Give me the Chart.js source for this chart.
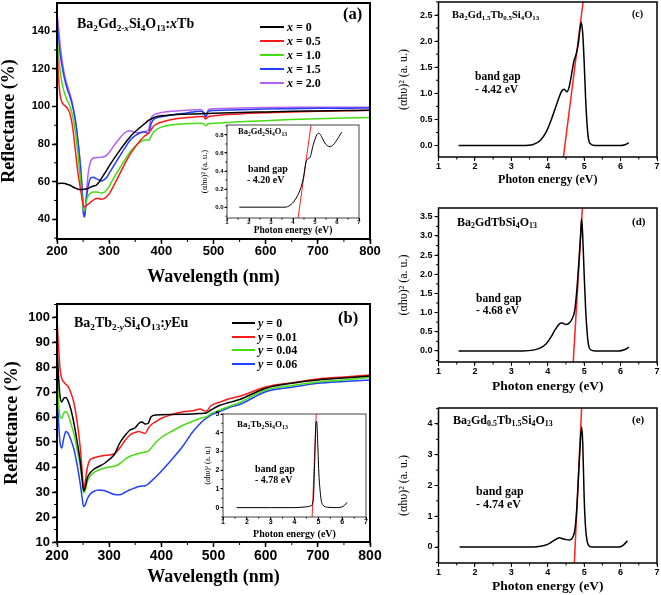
<!DOCTYPE html>
<html>
<head>
<meta charset="utf-8">
<title>Reflectance spectra and band gaps</title>
<script src="https://cdn.jsdelivr.net/npm/chart.js@4.4.1/dist/chart.umd.min.js"></script>
<style>
  html, body { margin: 0; padding: 0; background: #fff; }
  #fig { position: relative; width: 661px; height: 595px; overflow: hidden; background: #fff; }
  #fig canvas { position: absolute; }
  .t { position: absolute; font-family: "Liberation Serif", "Times New Roman", serif; font-weight: bold; line-height: 1; white-space: nowrap; color: #000; }
  .t sub { font-size: 0.66em; vertical-align: -0.3em; line-height: 0; }
  .leg { position: absolute; display: flex; align-items: center; height: 14px; }
  .leg .ln { display: inline-block; height: 2px; }
  .leg .tx { font-family: "Liberation Serif", serif; font-weight: bold; font-size: 12px; line-height: 14px; margin-left: 3px; white-space: nowrap; }
</style>
</head>
<body>
<div id="fig">
  <canvas id="ca" width="385" height="290" style="left:0;top:0"></canvas>
  <canvas id="cb" width="385" height="295" style="left:0;top:300px"></canvas>
  <canvas id="cai" width="167" height="117" style="left:200px;top:120px"></canvas>
  <canvas id="cbi" width="174" height="131" style="left:196px;top:409px"></canvas>
  <canvas id="cc" width="269" height="195" style="left:392px;top:0"></canvas>
  <canvas id="cd" width="269" height="195" style="left:392px;top:200px"></canvas>
  <canvas id="ce" width="269" height="195" style="left:392px;top:400px"></canvas>

  <div class="t" style="left:77px;top:17px;font-size:14px">Ba<sub>2</sub>Gd<sub>2-<i>x</i></sub>Si<sub>4</sub>O<sub>13</sub>:<i>x</i>Tb</div>
  <div class="t" style="left:343px;top:6px;font-size:16.5px">(a)</div>
  <div class="t" style="left:74px;top:316px;font-size:14px">Ba<sub>2</sub>Tb<sub>2-<i>y</i></sub>Si<sub>4</sub>O<sub>13</sub>:<i>y</i>Eu</div>
  <div class="t" style="left:338px;top:310px;font-size:16.5px">(b)</div>

  <div class="t" style="left:238px;top:127px;font-size:8.5px">Ba<sub>2</sub>Gd<sub>2</sub>Si<sub>4</sub>O<sub>13</sub></div>
  <div class="t" style="left:248px;top:163.5px;font-size:10px">band gap</div>
  <div class="t" style="left:247px;top:174.5px;font-size:10px">- 4.20 eV</div>

  <div class="t" style="left:237px;top:419.5px;font-size:9px">Ba<sub>2</sub>Tb<sub>2</sub>Si<sub>4</sub>O<sub>13</sub></div>
  <div class="t" style="left:255px;top:463.5px;font-size:10px">band gap</div>
  <div class="t" style="left:255px;top:474.5px;font-size:10px">- 4.78 eV</div>

  <div class="t" style="left:452px;top:10px;font-size:10.5px">Ba<sub>2</sub>Gd<sub>1.5</sub>Tb<sub>0.5</sub>Si<sub>4</sub>O<sub>13</sub></div>
  <div class="t" style="left:632px;top:8.5px;font-size:10px">(c)</div>
  <div class="t" style="left:475px;top:70.5px;font-size:11.5px">band gap</div>
  <div class="t" style="left:475px;top:83.5px;font-size:11.5px">- 4.42 eV</div>

  <div class="t" style="left:457px;top:216px;font-size:12px">Ba<sub>2</sub>GdTbSi<sub>4</sub>O<sub>13</sub></div>
  <div class="t" style="left:632px;top:216px;font-size:11px">(d)</div>
  <div class="t" style="left:476px;top:292.5px;font-size:11.5px">band gap</div>
  <div class="t" style="left:476px;top:304.5px;font-size:11.5px">- 4.68 eV</div>

  <div class="t" style="left:453px;top:414px;font-size:12px">Ba<sub>2</sub>Gd<sub>0.5</sub>Tb<sub>1.5</sub>Si<sub>4</sub>O<sub>13</sub></div>
  <div class="t" style="left:632px;top:414px;font-size:11px">(e)</div>
  <div class="t" style="left:476px;top:485px;font-size:12px">band gap</div>
  <div class="t" style="left:476px;top:498px;font-size:12px">- 4.74 eV</div>
</div>

<script>
// ---------- DATA ----------
// (a) Ba2Gd2-xSi4O13:xTb reflectance
var wlA = [200, 203, 206, 210, 215, 220, 225, 230, 235, 240,
           245, 248, 251, 253, 256, 260, 265, 270, 275, 280,
           285, 290, 295, 300, 310, 320, 330, 340, 350, 360,
           367, 372, 376, 380, 385, 390, 400, 420, 440, 460,
           475, 481, 485, 490, 500, 550, 600, 650, 700, 750, 800];
var refA_x0  = [58.4, 59, 59.2, 59.2, 59, 58.5, 58.1, 57.3, 56.6, 56,
                55.8, 55.8, 55.9, 56, 56.2, 56.4, 57.2, 57.7, 58, 59.5,
                61.6, 63.8, 66, 68.3, 72.5, 76.5, 80.3, 83.8, 86.7, 89,
                90.6, 91.8, 92.7, 93.3, 94, 94.5, 95, 95.5, 95.8, 96,
                96.1, 96.2, 96.2, 96.3, 96.4, 96.8, 97.1, 97.4, 97.6, 97.8, 98];
var refA_x05 = [132, 115, 106, 102, 100.5, 99, 96, 89, 77, 65,
                56, 51, 47, 46.5, 47.2, 48, 49.2, 50.2, 51, 51,
                50.6, 51, 52, 53.5, 58.5, 64, 69.5, 74.5, 78.5, 82,
                84, 85, 86, 87.5, 89.5, 90.5, 91.6, 93, 93.8, 94.3,
                94.6, 94.6, 93.3, 94.5, 95, 96, 96.6, 97, 97.4, 97.7, 98];
var refA_x10 = [139, 127, 119, 112, 106.5, 103, 100, 95, 87, 75,
                61, 52, 44.5, 45, 49.5, 52.5, 54, 54.5, 54.5, 54.3,
                54, 54.2, 55.5, 57.5, 62.5, 67, 71.5, 75.8, 78.8, 81.2,
                82.2, 82.3, 82, 84, 86.3, 87.6, 89, 90.2, 90.7, 90.9,
                91, 90.8, 89.8, 90.8, 91, 91.8, 92.4, 93, 93.4, 93.8, 94.1];
var refA_x15 = [145, 136, 128, 121, 114, 109, 105, 100, 93, 82,
                68, 57, 43, 41.5, 50, 58, 62, 62.3, 61.6, 61,
                60.4, 61, 62.2, 64.5, 69, 73.5, 77.8, 82, 84.5, 86,
                86.5, 86, 85.6, 90.5, 93, 93.8, 94.5, 95.5, 96.2, 97,
                97.4, 96.5, 94.4, 97.4, 97.8, 98.2, 98.6, 98.8, 99, 99, 99.2];
var refA_x20 = [150, 142, 133, 124, 116, 111, 106.5, 101, 93, 82,
                68, 57, 42, 41, 52, 65, 71, 72.6, 72.8, 72.8,
                73, 73.2, 74, 75.5, 79.5, 83, 86, 87, 86.2, 86.2,
                86.5, 87, 88, 93.5, 95.3, 96, 96.8, 97.4, 97.8, 98.1,
                98.3, 97, 94.4, 98.3, 98.8, 99.2, 99.4, 99.5, 99.5, 99.6, 99.6];
var namesA = ['0', '0.5', '1.0', '1.5', '2.0'];
var colorsA = ['#000000', '#ff1a1a', '#44dd11', '#2040ff', '#b860ee'];

// (b) Ba2Tb2-ySi4O13:yEu reflectance
var wlB = [200, 203, 206, 209, 213, 217, 221, 226, 232, 238,
           244, 248, 251, 254, 258, 263, 270, 280, 290, 300,
           310, 320, 330, 340, 350, 357, 363, 369, 375, 380,
           390, 400, 420, 440, 460, 475, 481, 486, 495, 510,
           530, 550, 600, 650, 700, 750, 800];
var refB_y0   = [88, 76, 68, 66, 67.5, 67.8, 66.5, 63.5, 58, 51,
                 43, 36, 30.5, 31.5, 35.5, 37.5, 39, 40.2, 41.3, 43,
                 45, 49.5, 52.5, 54.8, 55.7, 57.5, 58, 57.2, 57.5, 60,
                 60.8, 60.9, 61, 61.1, 61.2, 61.4, 61.5, 61.6, 62.8, 64.5,
                 65.8, 67, 71.5, 73.5, 74.8, 75.6, 76.4];
var refB_y001 = [99, 88, 79, 75.5, 74, 73, 72.3, 70, 66, 59,
                 49, 39, 31, 34, 39.5, 42.8, 43.6, 44.2, 44.6, 44.8,
                 45.3, 47.5, 50.5, 52.8, 53.8, 54.2, 53.8, 53.4, 55.5, 56.8,
                 58.2, 59.5, 61, 62, 62.5, 63.2, 62.6, 62.3, 64.5, 65.8,
                 67.3, 68.3, 72, 73.7, 75.2, 76, 76.8];
var refB_y004 = [80, 66, 60, 59.5, 61.5, 62.2, 61, 57.8, 53.5, 47.5,
                 41, 34.5, 29.6, 30.5, 34, 36.2, 37.7, 38.8, 39.5, 40,
                 40.3, 41.3, 43, 44.3, 45, 45.4, 45.7, 46, 46.3, 47.5,
                 50, 51.8, 54.3, 56.5, 58.3, 59.5, 59.8, 60, 61.3, 62.6,
                 64.2, 65.8, 70.8, 72.6, 74, 74.8, 75.9];
var refB_y006 = [72, 58, 49.5, 47.6, 51.5, 54.2, 53.6, 51.2, 47.5, 41.5,
                 34, 28, 24.2, 24.8, 27.2, 29, 30.2, 30.8, 30.6, 29.8,
                 29, 28.9, 29.8, 30.9, 31.7, 32.2, 32.4, 32.5, 33.2, 34.2,
                 36.2, 38.3, 43, 48, 54, 57.5, 58.7, 59.4, 60.8, 62,
                 63.8, 65, 70.1, 71.9, 73.5, 74.2, 74.8];
var namesB = ['0', '0.01', '0.04', '0.06'];
var colorsB = ['#000000', '#ff1a1a', '#44dd11', '#2040ff'];

// insets: (alpha h nu)^2 vs photon energy
var eInsetA = [1.56, 2.5, 3.64, 3.86, 4.09, 4.32, 4.47, 4.59, 4.65, 4.77,
               4.92, 5.08, 5.17, 5.3, 5.45, 5.68, 5.83, 6.06, 6.21];
var absInsetA = [0, 0, 0, 0.02, 0.08, 0.19, 0.32, 0.5, 0.53, 0.55,
                 0.69, 0.8, 0.82, 0.78, 0.71, 0.67, 0.69, 0.77, 0.83];
var fitInsetA_E = [4.23, 4.82], fitInsetA_V = [-0.12, 0.91];

var eInsetB = [1.57, 3.0, 3.98, 4.48, 4.69, 4.79, 4.85, 4.9, 4.93, 4.97,
               5.02, 5.07, 5.12, 5.18, 5.4, 5.75, 5.97, 6.1, 6.2];
var absInsetB = [0, 0, 0, 0.04, 0.1, 0.43, 2.55, 4.5, 4.6, 3.6,
                 1.9, 0.96, 0.4, 0.16, 0.02, 0, 0.03, 0.12, 0.28];
var fitInsetB_E = [4.74, 4.91], fitInsetB_V = [-0.5, 5.0];

// (c) Ba2Gd1.5Tb0.5Si4O13
var eC = [1.55, 2.5, 3.3, 3.6, 3.8, 3.95, 4.1, 4.2, 4.3, 4.38,
          4.45, 4.52, 4.58, 4.65, 4.72, 4.78, 4.84, 4.88, 4.92, 4.96,
          5.0, 5.04, 5.08, 5.12, 5.18, 5.3, 5.6, 6.0, 6.1, 6.23];
var absC = [0, 0, 0, 0.02, 0.1, 0.25, 0.5, 0.7, 0.9, 1.04,
            1.08, 1.03, 1.1, 1.35, 1.62, 1.75, 1.95, 2.2, 2.36, 2.15,
            1.6, 0.9, 0.4, 0.12, 0.03, 0, 0, 0, 0.01, 0.05];
var fitC_E = [4.43, 4.97], fitC_V = [-0.22, 2.75];

// (d) Ba2GdTbSi4O13
var eD = [1.55, 2.5, 3.3, 3.6, 3.8, 3.95, 4.1, 4.2, 4.3, 4.36,
          4.42, 4.5, 4.58, 4.66, 4.74, 4.8, 4.86, 4.9, 4.93, 4.96,
          5.0, 5.04, 5.08, 5.12, 5.18, 5.3, 5.6, 5.95, 6.1, 6.23];
var absD = [0, 0, 0, 0.02, 0.08, 0.18, 0.38, 0.55, 0.68, 0.73,
            0.72, 0.69, 0.72, 0.82, 1.05, 1.6, 2.4, 3.0, 3.45, 3.0,
            2.0, 1.1, 0.5, 0.15, 0.03, 0, 0, 0, 0.03, 0.1];
var fitD_E = [4.70, 4.95], fitD_V = [-0.29, 3.73];

// (e) Ba2Gd0.5Tb1.5Si4O13
var eE = [1.58, 2.5, 3.3, 3.7, 3.9, 4.05, 4.15, 4.25, 4.32, 4.4,
          4.5, 4.6, 4.68, 4.75, 4.8, 4.84, 4.88, 4.93, 4.96, 5.0,
          5.04, 5.08, 5.12, 5.18, 5.3, 5.6, 5.95, 6.05, 6.19];
var absE = [0, 0, 0, 0.01, 0.05, 0.12, 0.2, 0.27, 0.3, 0.27,
            0.24, 0.23, 0.3, 0.6, 1.3, 2.2, 3.1, 3.9, 3.4, 1.6,
            0.6, 0.2, 0.05, 0.01, 0, 0, 0, 0.04, 0.2];
var fitE_E = [4.73, 4.93], fitE_V = [-0.52, 4.52];

// tick values
var ticksWl = [200, 300, 400, 500, 600, 700, 800];
var ticksRefA = [40, 60, 80, 100, 120, 140];
var ticksRefB = [10, 20, 30, 40, 50, 60, 70, 80, 90, 100];
var ticksE = [1, 2, 3, 4, 5, 6, 7];
var ticksC = [0, 0.5, 1.0, 1.5, 2.0, 2.5];
var ticksD = [0, 0.5, 1.0, 1.5, 2.0, 2.5, 3.0, 3.5];
var ticksE_y = [0, 1, 2, 3, 4];
var ticksInsetA = [0, 0.2, 0.4, 0.6, 0.8];
var ticksInsetB = [0, 1, 2, 3, 4, 5];

var FIT_RED = '#ff2020';
var ABS_LABEL = '(\u03b1h\u03c5)\u00b2 (a. u.)';

// ---------- PLUGINS ----------
// box round the plot area
var framePlugin = {
  id: 'frame',
  afterDatasetsDraw: function (chart, args, o) {
    var a = chart.chartArea, ctx = chart.ctx;
    ctx.save();
    ctx.strokeStyle = o.color || '#000';
    ctx.lineWidth = o.width || 1;
    ctx.strokeRect(a.left, a.top, a.right - a.left, a.bottom - a.top);
    ctx.restore();
  }
};

// short outward minor ticks
var minorPlugin = {
  id: 'minorTicks',
  afterDraw: function (chart, args, o) {
    var a = chart.chartArea, ctx = chart.ctx;
    var xs = chart.scales.x, ys = chart.scales.y;
    ctx.save();
    ctx.strokeStyle = '#000';
    ctx.lineWidth = o.width || 1;
    var k, v, p;
    for (k = Math.ceil(xs.min / o.x - 1e-9); k * o.x <= xs.max + 1e-9; k++) {
      p = xs.getPixelForValue(k * o.x);
      ctx.beginPath(); ctx.moveTo(p, a.bottom); ctx.lineTo(p, a.bottom + o.len); ctx.stroke();
    }
    for (k = Math.ceil(ys.min / o.y - 1e-9); k * o.y <= ys.max + 1e-9; k++) {
      p = ys.getPixelForValue(k * o.y);
      ctx.beginPath(); ctx.moveTo(a.left, p); ctx.lineTo(a.left - o.len, p); ctx.stroke();
    }
    ctx.restore();
  }
};

// ---------- HELPERS ----------
function series(xs, ys, color, width) {
  return {
    data: xs.map(function (x, i) { return { x: x, y: ys[i] }; }),
    borderColor: color,
    borderWidth: width,
    pointRadius: 0,
    fill: false,
    cubicInterpolationMode: 'monotone'
  };
}

function fitLine(xs, ys, width) {
  return {
    data: xs.map(function (x, i) { return { x: x, y: ys[i] }; }),
    borderColor: FIT_RED,
    borderWidth: width,
    pointRadius: 0,
    fill: false,
    tension: 0
  };
}

function axis(o) {
  return {
    type: 'linear',
    min: o.min,
    max: o.max,
    afterBuildTicks: function (s) { s.ticks = o.ticks.map(function (v) { return { value: v }; }); },
    afterFit: function (s) {
      if (s.isHorizontal()) { s.height = o.size; s.paddingLeft = 0; s.paddingRight = 0; }
      else { s.width = o.size; s.paddingTop = 0; s.paddingBottom = 0; }
    },
    ticks: {
      color: '#000',
      font: { family: "'Liberation Sans', Arial, sans-serif", weight: 'bold', size: o.tickSize },
      padding: o.tickPad || 0,
      maxRotation: 0,
      autoSkip: false,
      callback: o.fmt
    },
    grid: { display: true, drawOnChartArea: false, drawTicks: true, tickLength: o.tl, color: '#000', tickWidth: o.tw || 1 },
    border: { display: false },
    title: {
      display: true,
      text: o.title,
      color: '#000',
      font: { family: "'Liberation Serif', 'Times New Roman', serif", weight: o.titleWeight || 'bold', size: o.titleSize },
      padding: o.titlePad
    }
  };
}

function makeChart(id, datasets, xAx, yAx, pad, frame, minor) {
  return new Chart(document.getElementById(id), {
    type: 'line',
    data: { datasets: datasets },
    options: {
      responsive: false,
      animation: false,
      events: [],
      layout: { padding: pad },
      scales: { x: xAx, y: yAx },
      plugins: {
        legend: { display: false },
        tooltip: { enabled: false },
        frame: frame,
        minorTicks: minor
      }
    },
    plugins: [framePlugin, minorPlugin]
  });
}

function buildLegend(names, colors, sym, left, center0, step, lineW) {
  var fig = document.getElementById('fig');
  names.forEach(function (n, i) {
    var row = document.createElement('div');
    row.className = 'leg';
    row.style.left = left + 'px';
    row.style.top = (center0 + i * step - 7) + 'px';
    row.innerHTML = '<span class="ln" style="width:' + lineW + 'px;background:' + colors[i] + '"></span>' +
      '<span class="tx"><i>' + sym + '</i> = ' + n + '</span>';
    fig.appendChild(row);
  });
}

var fmtInt = function (v) { return String(v); };
var fmt1 = function (v) { return v.toFixed(1); };

// ---------- (a) ----------
var seriesA = [refA_x0, refA_x05, refA_x10, refA_x15, refA_x20];
makeChart('ca',
  seriesA.map(function (ys, i) { return series(wlA, ys, colorsA[i], 1.5); }),
  axis({ min: 200, max: 800, ticks: ticksWl, size: 51, tickSize: 13, tl: 5, tw: 1.5, fmt: fmtInt,
         title: 'Wavelength (nm)', titleSize: 18, titlePad: { top: 0, bottom: 2 } }),
  axis({ min: 29.5, max: 155, ticks: ticksRefA, size: 57, tickSize: 11, tl: 5, tw: 1.5, tickPad: 2, fmt: fmtInt,
         title: 'Reflectance (%)', titleSize: 18, titlePad: { top: -1, bottom: 0 } }),
  { top: 3, right: 15, bottom: 0, left: 0 },
  { width: 2 },
  { x: 50, y: 10, len: 3, width: 1 }
);
buildLegend(namesA, colorsA, 'x', 260, 27, 14, 24);

// ---------- (b) ----------
var seriesB = [refB_y0, refB_y001, refB_y004, refB_y006];
makeChart('cb',
  seriesB.map(function (ys, i) { return series(wlB, ys, colorsB[i], 1.5); }),
  axis({ min: 200, max: 800, ticks: ticksWl, size: 53, tickSize: 14, tl: 5, tw: 1.5, tickPad: 1, fmt: fmtInt,
         title: 'Wavelength (nm)', titleSize: 18, titlePad: { top: 0, bottom: 7 } }),
  axis({ min: 10, max: 105.2, ticks: ticksRefB, size: 57, tickSize: 13, tl: 5, tw: 1.5, tickPad: 2, fmt: fmtInt,
         title: 'Reflectance (%)', titleSize: 18, titlePad: { top: 2, bottom: 0 } }),
  { top: 4, right: 15, bottom: 0, left: 0 },
  { width: 2 },
  { x: 50, y: 5, len: 3, width: 1 }
);
buildLegend(namesB, colorsB, 'y', 232, 323, 13.5, 23);

// ---------- insets ----------
makeChart('cai',
  [series(eInsetA, absInsetA, '#000', 1), fitLine(fitInsetA_E, fitInsetA_V, 1)],
  axis({ min: 1, max: 7, ticks: ticksE, size: 19, tickSize: 6, tl: 2.5, tickPad: -2, fmt: fmtInt,
         title: 'Photon energy (eV)', titleSize: 9.5, titlePad: { top: 0, bottom: 1 } }),
  axis({ min: -0.12, max: 0.91, ticks: ticksInsetA, size: 27, tickSize: 6, tl: 2.5, tickPad: 1, fmt: fmt1,
         title: ABS_LABEL, titleSize: 8.5, titleWeight: 'normal', titlePad: { top: 0, bottom: 0 } }),
  { top: 5, right: 8, bottom: 0, left: 0 },
  { width: 1, color: '#444' },
  { x: 0.5, y: 0.1, len: 1.5, width: 1 }
);

makeChart('cbi',
  [series(eInsetB, absInsetB, '#000', 1), fitLine(fitInsetB_E, fitInsetB_V, 1)],
  axis({ min: 1, max: 7, ticks: ticksE, size: 23, tickSize: 7, tl: 2.5, tickPad: -2, fmt: fmtInt,
         title: 'Photon energy (eV)', titleSize: 10, titlePad: { top: 0, bottom: 0 } }),
  axis({ min: -0.5, max: 5, ticks: ticksInsetB, size: 27, tickSize: 7, tl: 2.5, tickPad: 1, fmt: fmtInt,
         title: ABS_LABEL, titleSize: 7.5, titleWeight: 'normal', titlePad: { top: 8, bottom: 0 } }),
  { top: 5, right: 4, bottom: 0, left: 0 },
  { width: 1, color: '#444' },
  { x: 0.5, y: 0.5, len: 1.5, width: 1 }
);

// ---------- (c), (d), (e) ----------
makeChart('cc',
  [series(eC, absC, '#000', 1.5), fitLine(fitC_E, fitC_V, 1.5)],
  axis({ min: 1, max: 7, ticks: ticksE, size: 38, tickSize: 9, tl: 4, fmt: fmtInt,
         title: 'Photon energy (eV)', titleSize: 12, titlePad: { top: 0, bottom: 8 } }),
  axis({ min: -0.22, max: 2.75, ticks: ticksC, size: 46.5, tickSize: 9, tl: 4, tickPad: 2, fmt: fmt1,
         title: ABS_LABEL, titleSize: 12, titleWeight: 'normal', titlePad: { top: 5, bottom: 0 } }),
  { top: 2, right: 4, bottom: 0, left: 0 },
  { width: 1.5 },
  { x: 0.5, y: 0.25, len: 2.5, width: 1 }
);

makeChart('cd',
  [series(eD, absD, '#000', 1.5), fitLine(fitD_E, fitD_V, 1.5)],
  axis({ min: 1, max: 7, ticks: ticksE, size: 33, tickSize: 9, tl: 4, fmt: fmtInt,
         title: 'Photon energy (eV)', titleSize: 13.5, titlePad: { top: 0, bottom: 0 } }),
  axis({ min: -0.29, max: 3.73, ticks: ticksD, size: 46.5, tickSize: 9, tl: 4, tickPad: 2, fmt: fmt1,
         title: ABS_LABEL, titleSize: 12, titleWeight: 'normal', titlePad: { top: 5, bottom: 0 } }),
  { top: 8, right: 4, bottom: 0, left: 0 },
  { width: 1.5 },
  { x: 0.5, y: 0.25, len: 2.5, width: 1 }
);

makeChart('ce',
  [series(eE, absE, '#000', 1.5), fitLine(fitE_E, fitE_V, 1.5)],
  axis({ min: 1, max: 7, ticks: ticksE, size: 32, tickSize: 9, tl: 4, fmt: fmtInt,
         title: 'Photon energy (eV)', titleSize: 13.5, titlePad: { top: 0, bottom: 0 } }),
  axis({ min: -0.52, max: 4.52, ticks: ticksE_y, size: 46.5, tickSize: 9, tl: 4, tickPad: 2, fmt: fmtInt,
         title: ABS_LABEL, titleSize: 12, titleWeight: 'normal', titlePad: { top: 5, bottom: 0 } }),
  { top: 8, right: 4, bottom: 0, left: 0 },
  { width: 1.5 },
  { x: 0.5, y: 0.5, len: 2.5, width: 1 }
);
</script>
</body>
</html>
